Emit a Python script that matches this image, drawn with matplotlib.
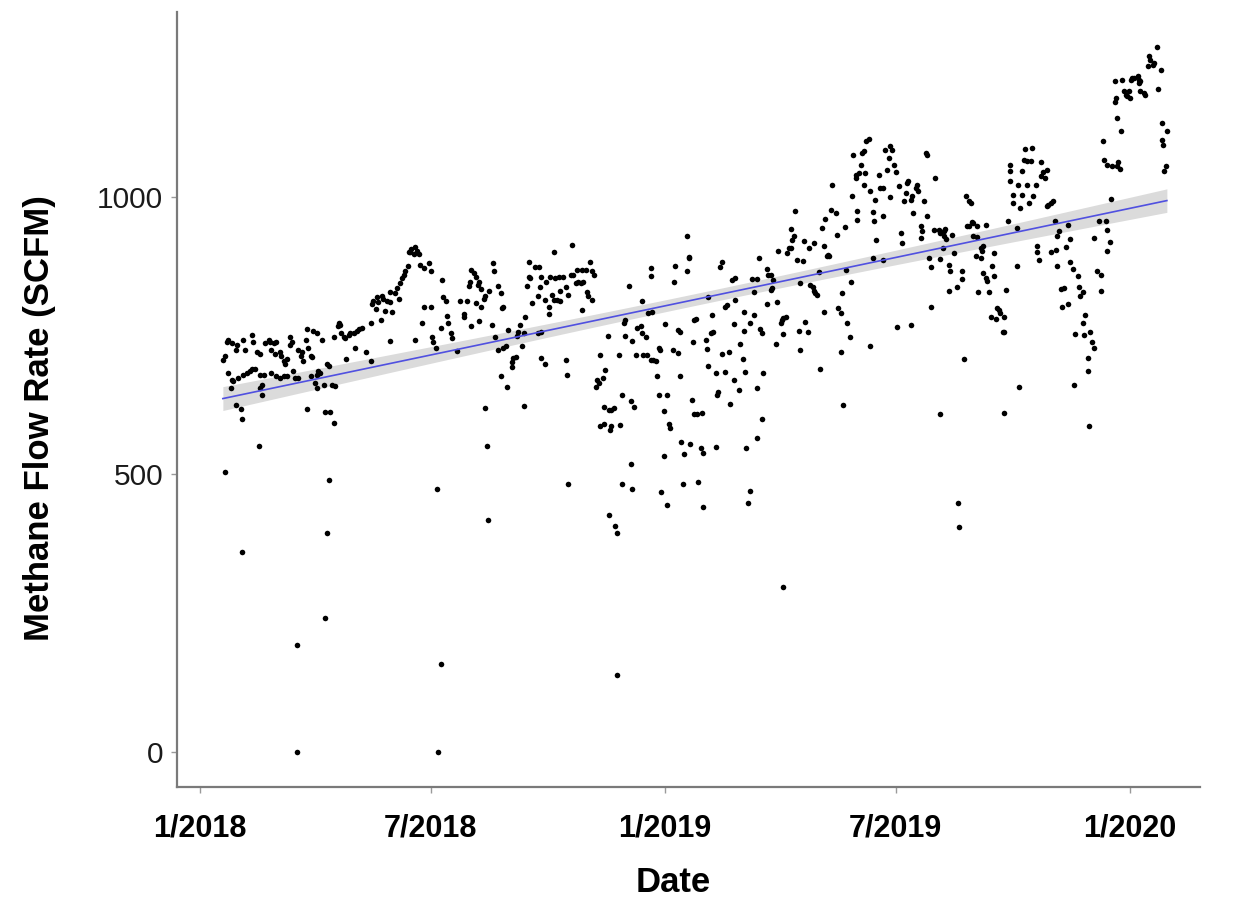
import matplotlib
matplotlib.use("Agg")
import matplotlib.pyplot as plt
import numpy as np
import pandas as pd

# ---------------- data (day offset since 2018-01-01, methane flow SCFM) ----------------
START = "2018-01-01"

flow_2018_h1 = [
    (18,706),(20,714),(21,739),(22,742),(25,736),(28,725),(29,733),(34,742),(35,724),(41,751),
    (42,739),(45,720),(47,717),(51,736),(54,742),(55,739),(56,724),(58,736),(59,717),(60,739),
    (63,721),(64,714),(66,705),(67,699),(68,708),(71,748),(71,733),(72,739),(77,724),(79,714),
    (80,720),(81,705),(83,742),(84,762),(85,727),(87,714),(88,711),(89,758),(92,755),(96,742),
    (100,699),(105,748),(108,767),(109,773),(110,770),(111,755),(113,748),(114,745),(117,751),
    (118,755),(121,755),(123,758),(125,762),(127,764),(122,727),(115,708),(130,720),(134,705),
    (134,773),(135,807),(136,813),(138,798),(139,819),(140,810),(142,779),(143,822),(144,816),
    (145,795),(147,813),(149,829),(149,810),(151,792),(149,741),(153,826),(155,835),(156,816),
    (157,844),(159,853),(160,860),(161,866),(163,875),(164,900),(165,900),(166,906),(168,897),
    (169,909),(170,903),(172,897),(173,878),(176,872),(180,881),(181,866),(176,801),(181,801),
    (174,773),(169,742),(190,850),(191,819),(193,813),(194,785),(195,773),(189,764),(182,748),
    (183,739),(185,727),(197,754),(198,745),
    (22,682),(25,671),(26,668),(30,674),(34,680),(37,683),(39,686),(41,690),(43,690),(47,680),
    (50,680),(49,662),(47,656),(49,643),(56,683),(60,677),(63,674),(66,677),(68,677),(73,686),
    (75,673),(77,673),(87,677),(92,680),(93,686),(94,683),(90,665),(92,656),(97,662),(101,696),
    (104,662),(106,660),(24,656),(28,625),(32,618),(33,600),(46,552),(20,505),(84,617),(98,613),
    (102,612),(105,592),(101,490),(186,474),(100,394),(33,360),(98,242),(76,192),(189,158),
    (76,0),(187,0),
]

flow_2018_h2 = [
    (204,812),(207,789),(207,783),(210,812),(211,840),(212,846),(213,869),(215,863),(217,856),
    (218,842),(219,846),(221,834),(221,802),(223,816),(224,821),(227,831),(229,770),(230,880),
    (231,866),(234,840),(236,826),(237,799),(238,802),(213,767),(217,808),(219,776),(202,722),
    (232,747),(234,725),(238,728),(240,731),(242,760),(245,702),(246,709),(248,712),(245,693),
    (249,750),(250,757),(251,770),(253,731),(254,754),(255,783),(236,678),(241,657),(224,619),
    (254,624),(225,551),(226,418),(258,883),(258,856),(259,853),(257,839),(261,808),(263,873),
    (265,821),(266,873),(267,837),(268,856),(271,815),(272,846),(274,802),(274,789),(275,856),
    (276,824),(278,815),(279,853),(280,815),(282,856),(283,831),(283,812),(285,856),(287,837),
    (289,824),(291,860),(292,914),(278,900),(293,860),(295,844),(296,869),(297,847),(299,844),
    (300,869),(301,847),(303,869),(304,828),(305,821),(306,883),(308,866),(309,860),(308,815),
    (300,797),(265,754),(268,757),(268,709),(271,699),(287,707),(288,680),(289,482),(312,670),
    (311,657),(313,664),(314,716),(316,673),(318,688),(320,750),(317,622),(321,616),(323,616),
    (325,619),(314,588),(317,591),(322,580),(323,587),(330,589),(321,427),(326,408),(327,395),
    (327,138),(331,644),(334,750),(333,773),(334,779),(337,839),(329,716),(338,632),(341,622),
    (339,741),(338,519),(331,482),(339,473),(342,715),(343,763),(346,767),(347,754),(350,747),
    (348,715),(351,715),(354,707),(356,707),(358,705),(359,677),(360,728),(361,725),(360,644),
    (364,614),(364,533),(367,643),(368,591),(369,583),(362,468),(367,445),(347,812),(352,790),
    (355,792),(354,858),(354,871),(365,771),(372,846),(373,876),(375,760),(377,756),(371,725),
    (375,718),(377,677),(378,559),(380,537),(385,554),(379,482),(382,930),(384,892),(384,889),
    (382,866),(386,634),(388,609),(388,779),(387,738),
]

flow_2019_h1 = [
    (389,780),(390,609),(394,611),(393,547),(395,538),(391,486),(395,441),(397,742),(398,726),
    (399,820),(399,696),(402,787),(401,754),(403,757),(405,682),(405,550),(406,643),(407,649),
    (408,874),(410,882),(410,717),(412,801),(414,805),(415,721),(412,685),(416,627),(418,850),
    (419,771),(420,853),(420,814),(419,670),(423,653),(424,735),(426,708),(427,759),(427,793),
    (428,684),(429,547),(430,448),(432,471),(433,852),(432,772),(435,787),(435,829),(437,852),
    (437,655),(439,889),(440,762),(441,754),(441,599),(437,565),(442,682),(445,870),(445,807),
    (446,859),(448,859),(448,832),(449,835),(450,850),(453,811),(454,902),(456,772),(457,778),
    (458,781),(460,784),(458,753),(452,735),(458,298),(461,899),(462,908),(464,908),(465,923),
    (466,929),(467,974),(464,942),(469,887),(470,759),(471,844),(473,884),(471,724),(474,920),
    (475,775),(477,757),(478,907),(479,841),(481,838),(482,831),(483,826),(484,823),(482,917),
    (486,865),(487,690),(488,944),(490,793),(490,911),(491,960),(492,893),(493,896),(494,893),
    (495,977),(496,1022),(499,971),(500,932),(501,799),(503,790),(503,720),(504,826),(505,625),
    (506,945),(507,868),(508,772),(510,747),(511,846),(512,1002),(513,1076),(515,1034),
    (515,1040),(516,974),(516,959),(517,1043),(519,1058),(520,1079),(521,1082),(521,1022),
    (522,1043),(523,1100),(525,1104),(526,732),(526,1010),(528,889),(528,972),(529,956),
    (530,995),(531,923),(533,1040),(534,1016),(536,1016),(536,887),(536,966),(538,1085),
    (539,1049),(541,1070),(542,999),(542,1091),(543,1085),(545,1058),(546,1044),(547,766),
    (549,1019),(550,935),(551,917),(553,992),(554,1007),(555,1025),(556,1028),(558,995),
    (559,1001),(558,769),(560,971),(562,1016),(563,1022),(564,1010),(566,947),(566,926),
    (567,938),(568,992),(570,1079),(571,1076),(571,965),(572,889),(574,874),(574,802),
    (576,941),(577,1034),
]

flow_2019_h2 = [
    (580,941),(581,935),(583,908),(584,938),(585,942),(584,929),(586,924),(581,888),(588,878),
    (588,831),(589,867),(590,932),(592,899),(594,837),(598,867),(598,852),(600,708),(601,1002),
    (602,947),(604,947),(604,993),(605,989),(606,954),(607,930),(607,953),(609,893),(610,927),
    (610,948),(611,828),(613,908),(613,890),(614,902),(615,912),(615,863),(617,950),(617,854),
    (618,848),(619,829),(621,784),(622,875),(623,899),(623,857),(625,780),(626,799),(627,796),
    (628,790),(630,757),(631,784),(631,756),(633,832),(634,956),(636,1058),(636,1046),(636,1029),
    (638,1004),(638,989),(641,876),(641,944),(642,1022),(643,657),(644,980),(645,1046),
    (645,1004),(647,1067),(648,1086),(649,1064),(649,1022),(651,989),(652,1064),(653,1088),
    (654,1001),(656,1022),(657,911),(657,900),(659,887),(660,1062),(660,1037),(662,1044),
    (663,1034),(665,1049),(665,983),(666,986),(668,989),(668,900),(670,992),(671,957),(672,905),
    (673,876),(673,930),(674,938),(676,834),(678,835),(677,802),(680,909),(681,950),(681,807),
    (683,882),(683,924),(685,870),(686,661),(687,753),(689,858),(690,838),(691,822),(693,828),
    (694,751),(693,772),(695,787),(697,709),(697,687),(698,588),(699,757),(700,739),(702,926),
    (702,727),(704,867),(706,957),(707,831),(707,860),(711,956),(712,902),(712,941),(714,918),
    (715,996),(709,1100),(710,1067),(712,1058),(716,1056),(720,1055),(721,1062),(722,1050),
    (718,1170),(719,1178),(718,1208),(720,1142),(723,1118),(724,1211),(725,1190),(727,1184),
    (728,1181),(729,1190),(730,1178),(731,1211),(732,1214),(733,1214),(736,1217),(737,1211),
    (738,1208),(737,1205),(738,1190),(741,1187),(742,1184),(744,1235),(745,1253),(746,1247),
    (748,1238),(749,1241),(751,1270),(752,1194),(754,1228),(755,1133),(755,1103),(756,1094),
    (758,1055),(759,1118),(757,1047),(631,611),(581,608),(595,449),(596,405),
]

tick_dates = ["2018-01-01", "2018-07-01", "2019-01-01", "2019-07-01", "2020-01-01"]
tick_labels = ["1/2018", "7/2018", "1/2019", "7/2019", "1/2020"]
y_ticks = [0, 500, 1000]
x_label = "Date"
y_label = "Methane Flow Rate (SCFM)"

# ---------------- build ----------------
pts = np.array(flow_2018_h1 + flow_2018_h2 + flow_2019_h1 + flow_2019_h2, dtype=float)
days, flow = pts[:, 0], pts[:, 1]
start = pd.Timestamp(START)
dates = start + pd.to_timedelta(days, unit="D")

W, H = 1250, 907
fig = plt.figure(figsize=(W / 100, H / 100), dpi=100)
fig.patch.set_facecolor("white")
ax = fig.add_axes([177 / W, 1 - 787 / H, (1200 - 177) / W, (787 - 12) / H])

# linear model with 95% confidence band
slope, intercept = np.polyfit(days, flow, 1)
xs = np.linspace(days.min(), days.max(), 300)
n = len(days)
resid = flow - (slope * days + intercept)
sigma = np.sqrt((resid ** 2).sum() / (n - 2))
se = sigma * np.sqrt(1 / n + (xs - days.mean()) ** 2 / ((days - days.mean()) ** 2).sum())
yfit = slope * xs + intercept
xdates = start + pd.to_timedelta(xs, unit="D")

ax.fill_between(xdates, yfit - 1.963 * se, yfit + 1.963 * se,
                color="#cccccc", alpha=0.7, lw=0, zorder=2)
ax.scatter(dates, flow, s=16, c="black", linewidths=0, zorder=3)
ax.plot(xdates, yfit, color="#5050e0", lw=1.2, zorder=4)

ax.set_xlim(start - pd.Timedelta(days=18), start + pd.Timedelta(days=785))
ax.set_ylim(-63, 1333)

ax.set_xticks(pd.to_datetime(tick_dates))
ax.set_xticklabels(tick_labels, fontfamily="Liberation Sans", fontweight="bold",
                   fontsize=22, color="black")
ax.set_yticks(y_ticks)
ax.set_yticklabels([str(v) for v in y_ticks], fontfamily="Liberation Sans",
                   fontsize=21.5, color="#1a1a1a")

for side in ("top", "right"):
    ax.spines[side].set_visible(False)
for side in ("left", "bottom"):
    ax.spines[side].set_color("#7a7a7a")
    ax.spines[side].set_linewidth(1.6)
ax.tick_params(axis="x", length=4, width=1, color="#9a9a9a", pad=15)
ax.tick_params(axis="y", length=4, width=1, color="#9a9a9a", pad=6)
ax.set_facecolor("white")

fig.text(40 / W, 1 - 418 / H, y_label, rotation=90, ha="center", va="center",
         fontfamily="Liberation Sans", fontweight="bold", fontsize=25, color="black")
fig.text(673 / W, 1 - 882 / H, x_label, ha="center", va="center",
         fontfamily="Liberation Sans", fontweight="bold", fontsize=25, color="black")

fig.savefig("out.png", dpi=100, facecolor="white")
